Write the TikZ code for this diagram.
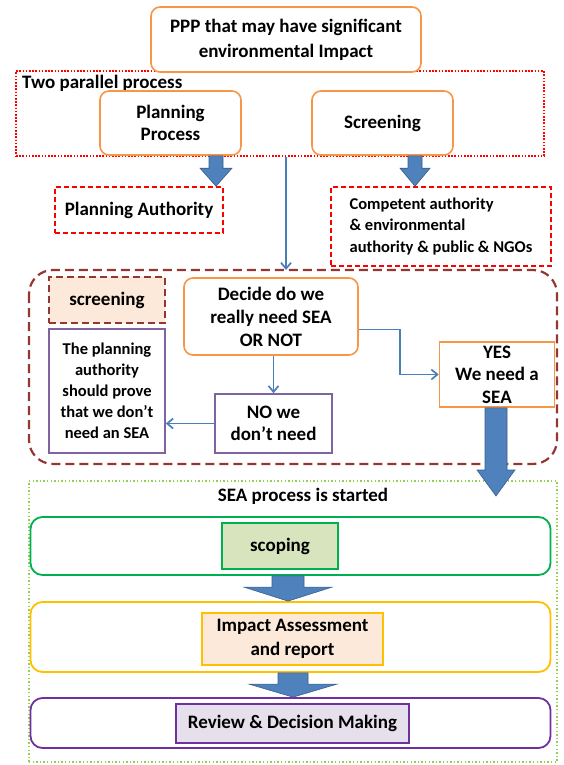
\documentclass[tikz,border=0pt]{standalone}
\usepackage{fontspec}
\setmainfont{Carlito}
\usetikzlibrary{calc,arrows.meta}
\definecolor{borange}{HTML}{F79646}
\definecolor{bred}{HTML}{FF0000}
\definecolor{bdarkred}{HTML}{943634}
\definecolor{bpurple}{HTML}{8064A2}
\definecolor{bviolet}{HTML}{7030A0}
\definecolor{bgreen}{HTML}{00B050}
\definecolor{blime}{HTML}{92D050}
\definecolor{byellow}{HTML}{FFC000}
\definecolor{bblue}{HTML}{4F81BD}
\definecolor{bblueline}{HTML}{385D8A}
\definecolor{bthin}{HTML}{4A7EBB}
\definecolor{fpeach}{HTML}{FDE9D9}
\definecolor{fgreen}{HTML}{D7E4BD}
\definecolor{flilac}{HTML}{E5E0EC}
\newcommand\fsz[2]{\fontsize{#1}{#2}\selectfont}
% block arrow: centre x, start, tip, shaft half width, head half width, head length
\newcommand\blockarrow[6]{%
  \filldraw[barrow] let \p1=(#2), \p2=(#3) in
    ({#1pt-#4pt},\y1) -- ({#1pt+#4pt},\y1) -- ({#1pt+#4pt},{\y2+#6pt})
    -- ({#1pt+#5pt},{\y2+#6pt}) -- (#1pt,\y2) -- ({#1pt-#5pt},{\y2+#6pt})
    -- ({#1pt-#4pt},{\y2+#6pt}) -- cycle;}
\tikzset{
  txt/.style={font=\bfseries\fsz{19}{23}, align=center, inner sep=0pt},
  obox/.style={txt, draw=borange, line width=1.6pt, rounded corners=9pt, fill=white},
  osq/.style={txt, draw=borange, line width=1.6pt, fill=white},
  reddash/.style={txt, draw=bred, line width=1.6pt, dash pattern=on 5pt off 3pt},
  reddot/.style={draw=bred, line width=1.6pt, dash pattern=on 1.6pt off 1.6pt},
  darkdash/.style={draw=bdarkred, line width=2.2pt, dash pattern=on 9pt off 5pt},
  pbox/.style={txt, draw=bpurple, line width=1.6pt, fill=white},
  greendot/.style={draw=blime, line width=1.4pt, dash pattern=on 1.4pt off 2.2pt},
  outer/.style={line width=1.8pt, rounded corners=12pt, fill=white},
  inner/.style={txt, line width=1.8pt},
  barrow/.style={fill=bblue, draw=bblueline, line width=0.6pt},
  conn/.style={draw=bthin, line width=1.7pt, -{Straight Barb[length=6pt,width=10pt]}}
}
\begin{document}
\begin{tikzpicture}[x=1pt,y=-1pt]
\useasboundingbox (0,0) rectangle (563,765);

% containers
\node[reddot, minimum width=528pt, minimum height=85pt] (rp) at (280,113.5) {};
\node[txt, anchor=west] (rpl) at (22,83) {Two parallel process};
\draw[darkdash, rounded corners=24pt] (29,270) rectangle (557,464);
\coordinate (bigtop) at (293,270);
\node[greendot, minimum width=528pt, minimum height=281pt] (sea) at (293,621.5) {};
\node[txt] (seal) at (303,496) {SEA process is started};

% top row
\node[obox, minimum width=270pt, minimum height=65pt, font=\bfseries\fsz{19}{25}] (ppp) at (286,39.5)
  {PPP that may have significant\\environmental Impact};
\node[obox, minimum width=141pt, minimum height=64pt, font=\bfseries\fsz{19}{22}] (pp) at (170.5,123) {Planning\\Process};
\node[obox, minimum width=141pt, minimum height=64pt] (sc) at (382.5,123) {Screening};

\node[reddash, minimum width=168pt, minimum height=46pt] (pauth) at (139,210) {Planning Authority};
\node[reddash, minimum width=220pt, minimum height=79pt, font=\bfseries\fsz{16.5}{21.5}, align=left] (ca) at (441,226.5)
  {Competent authority\\\& environmental\\authority \& public \& NGOs};

% screening stage
\node[txt, draw=bdarkred, line width=2.2pt, dash pattern=on 7pt off 4pt, fill=fpeach,
      minimum width=116pt, minimum height=46pt] (scr) at (107,300) {screening};
\node[obox, minimum width=174pt, minimum height=77pt] (dc) at (271,316.5)
  {Decide do we\\really need SEA\\OR NOT};
\node[pbox, minimum width=116pt, minimum height=124pt, font=\bfseries\fsz{16.5}{21}] (prove) at (107,391)
  {The planning\\authority\\should prove\\that we don’t\\need an SEA};
\node[pbox, minimum width=117pt, minimum height=59pt, font=\bfseries\fsz{19}{22}] (no) at (273.5,423.5)
  {NO we\\don’t need};
\node[osq, minimum width=115pt, minimum height=65pt, font=\bfseries\fsz{19}{22.5}] (yes) at (497,374.5)
  {YES\\We need a\\SEA};

% SEA stages
\node[outer, draw=bgreen, minimum width=520pt, minimum height=58pt] (scopeo) at (290.5,546) {};
\node[inner, draw=bgreen, fill=fgreen, minimum width=116pt, minimum height=46pt] (scope) at (280,546) {scoping};
\node[outer, draw=byellow, minimum width=520pt, minimum height=70pt] (impo) at (290.5,637) {};
\node[inner, draw=byellow, fill=fpeach, minimum width=181pt, minimum height=52pt, font=\bfseries\fsz{19}{24}] (imp) at (292.5,639)
  {Impact Assessment\\and report};
\node[outer, draw=bviolet, minimum width=520pt, minimum height=50pt] (revo) at (290.5,723) {};
\node[inner, draw=bviolet, fill=flilac, minimum width=233pt, minimum height=39pt] (rev) at (292.5,723.5)
  {Review \& Decision Making};

% thin connectors
\draw[conn] ([xshift=6pt]rp.south) -- ([xshift=6pt]rp.south |- bigtop);
\draw[conn] (no.north |- dc.south) -- (no.north);
\draw[conn] (no.west) -- (no.west -| prove.east);
\draw[conn] ([yshift=-13pt]dc.east) -- ++(41,0) |- (yes.west);

% block arrows
\blockarrow{216}{pp.south}{pauth.north}{7}{16}{18}
\blockarrow{415}{sc.south}{ca.north}{7}{15}{18}
\coordinate (yestip) at (496,496);
\blockarrow{496}{yes.south}{yestip}{11}{19}{26}
\blockarrow{288}{scopeo.south}{impo.north}{16}{44}{14}
\blockarrow{293}{impo.south}{revo.north}{15}{44}{13}
\end{tikzpicture}
\end{document}
